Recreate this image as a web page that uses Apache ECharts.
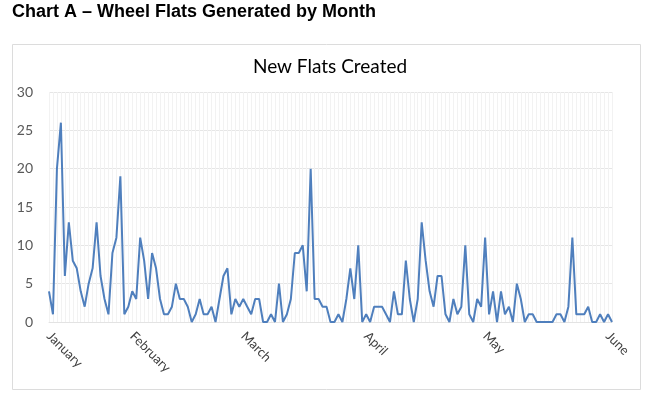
<!DOCTYPE html>
<html>
<head>
<meta charset="utf-8">
<script src="https://cdn.jsdelivr.net/npm/echarts@6/dist/echarts.min.js"></script>
<style>
html,body{margin:0;padding:0;background:#fff;}
#chart{width:660px;height:395px;}
</style>
</head>
<body>
<div id="chart"></div>
<script>
var pageTitle = 'Chart A \u2013 Wheel Flats Generated by Month';
var chartTitle = 'New Flats Created';
var startDate = [2015, 0, 11];
var monthNames = ['January','February','March','April','May','June','July','August','September','October','November','December'];
var yTicks = [0, 5, 10, 15, 20, 25, 30];
var flatsJanFeb = [4,1,20,26,6,13,8,7,4,2,5,7,13,6,3,1,9,11,19,1,2,4,3,11,8,3,9,7,3,1,1,2,5,3,3,2];
var flatsFebMar = [0,1,3,1,1,2,0,3,6,7,1,3,2,3,2,1,3,3,0,0,1,0,5,0,1,3,9,9,10,4,20,3,3,2,2,0];
var flatsMarApr = [0,1,0,3,7,3,10,0,1,0,2,2,2,1,0,4,1,1,8,3,0,3,13,8,4,2,6,6,1,0,3,1,2,10,1,0,3];
var flatsMayJun = [2,11,1,4,0,4,1,2,0,5,3,0,1,1,0,0,0,0,0,1,1,0,2,11,1,1,1,2,0,0,1,0,1,0];

var values = flatsJanFeb.concat(flatsFebMar, flatsMarApr, flatsMayJun);
var categories = [];
for (var i = 0; i < values.length; i++) {
  var d = new Date(startDate[0], startDate[1], startDate[2] + i);
  categories.push(d.getFullYear() + '-' + (d.getMonth()+1) + '-' + d.getDate());
}
function isLabelled(idx, val) {
  var p = val.split('-');
  return idx === 0 || p[2] === '1';
}

var chart = echarts.init(document.getElementById('chart'), null, {renderer: 'canvas'});
chart.setOption({
  animation: false,
  backgroundColor: '#ffffff',
  graphic: [
    {type: 'rect', shape: {x: 12.5, y: 44.5, width: 628, height: 345}, style: {fill: '#ffffff', stroke: '#dcdcdc', lineWidth: 1}, z: -10},
    {type: 'text', left: 12, top: 3, style: {text: pageTitle, font: 'bold 18px "Liberation Sans", Arial, sans-serif', fill: '#000000'}}
  ],
  title: {
    text: chartTitle, left: 'center', top: 52,
    textStyle: {fontFamily: 'Lato, "Open Sans", sans-serif', fontSize: 19, fontWeight: 'normal', color: '#000000'}
  },
  grid: {left: 49, right: 48, top: 92, bottom: 73, containLabel: false},
  xAxis: {
    type: 'category', data: categories, boundaryGap: false,
    axisLine: {show: true, lineStyle: {color: '#e3e3e3'}},
    axisTick: {show: false},
    splitLine: {show: true, interval: 0, lineStyle: {color: '#f2f2f2', width: 1}},
    axisLabel: {
      interval: function (idx, val) { return isLabelled(idx, val); },
      rotate: -45, margin: 12,
      fontFamily: 'Lato, "Open Sans", sans-serif', fontSize: 13, color: '#404040',
      formatter: function (val) { var p = val.split('-'); return monthNames[+p[1]-1]; }
    }
  },
  yAxis: {
    type: 'value', min: yTicks[0], max: yTicks[yTicks.length-1], interval: 5,
    axisLine: {show: false}, axisTick: {show: false},
    splitLine: {show: true, lineStyle: {color: '#e6e6e6', width: 1}},
    axisLabel: {margin: 16, fontFamily: 'Lato, "Open Sans", sans-serif', fontSize: 14, color: '#595959'}
  },
  series: [{
    type: 'line', data: values, showSymbol: false, symbol: 'none',
    lineStyle: {color: '#4f7fbd', width: 2}
  }]
});
</script>
</body>
</html>
